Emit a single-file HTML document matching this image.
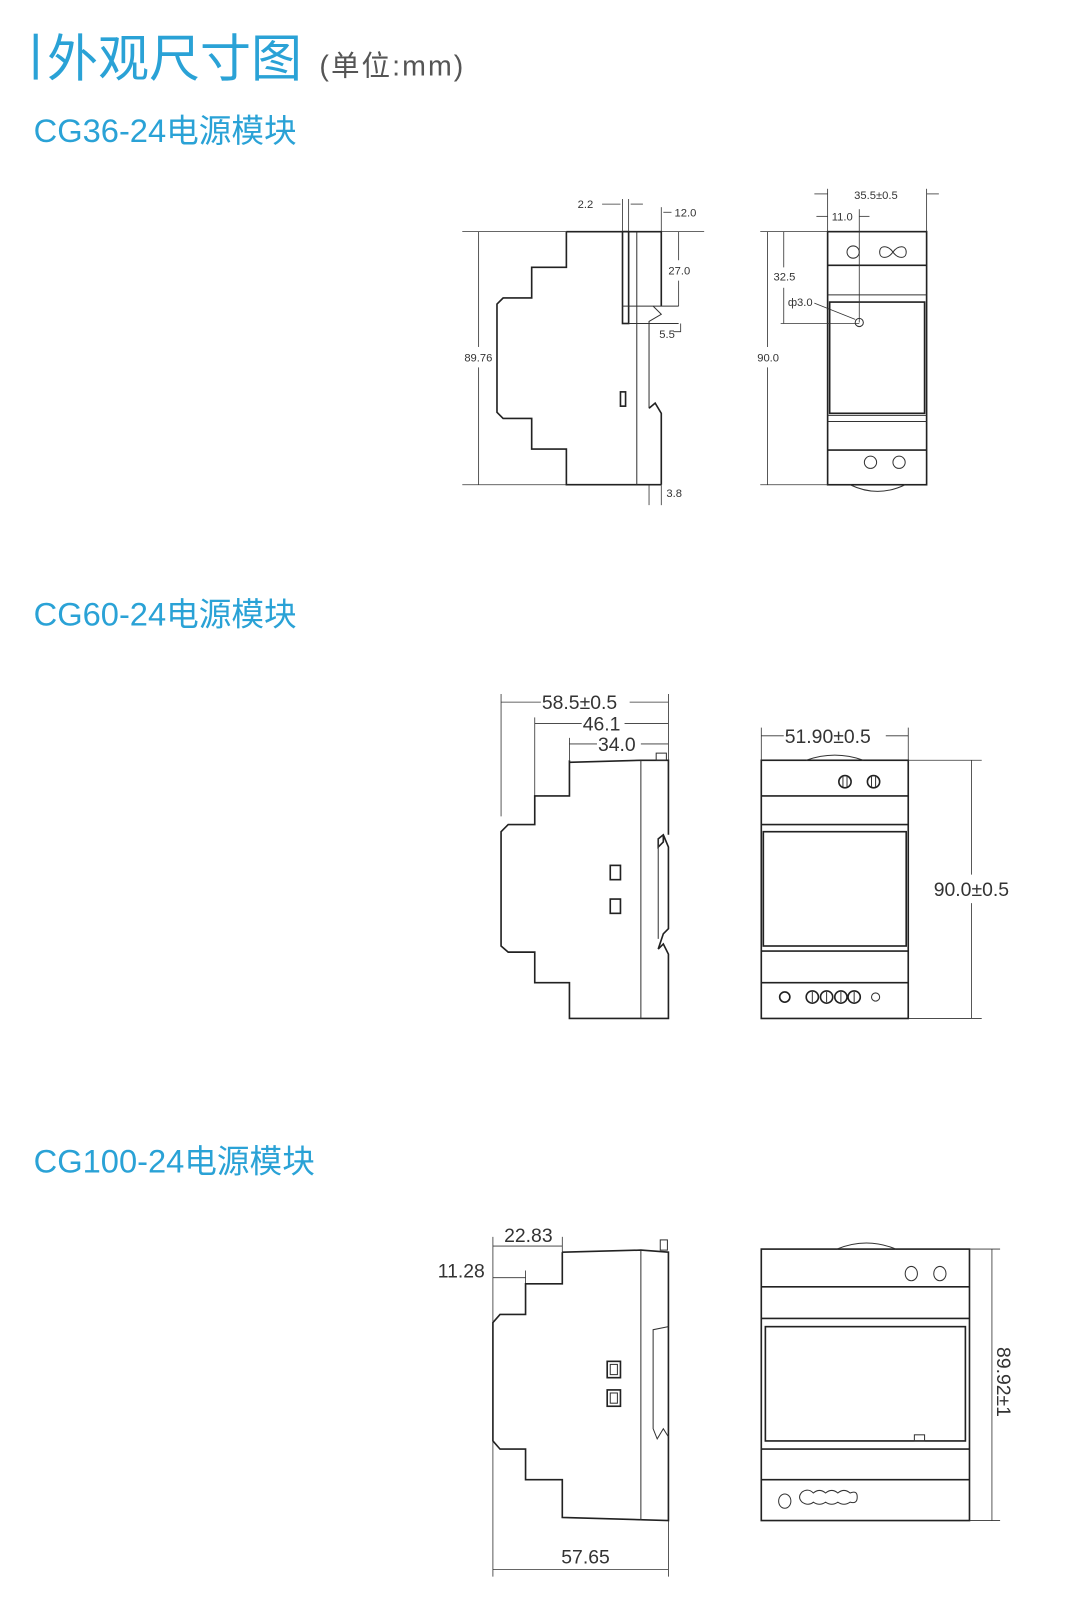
<!DOCTYPE html>
<html><head><meta charset="utf-8"><style>
html,body{margin:0;padding:0;background:#fff;width:1068px;height:1600px;overflow:hidden}
svg{display:block}
.b{fill:none;stroke:#222;stroke-width:1.6}
.t{fill:none;stroke:#333;stroke-width:1}
.d{fill:none;stroke:#333;stroke-width:0.8}
text{font-family:"Liberation Sans","Noto Sans CJK SC",sans-serif;fill:#333}
.s{font-size:11px}
.m{font-size:19px}
.h{fill:#2aa2d6}
</style></head><body>
<svg width="1068" height="1600" viewBox="0 0 1068 1600" xmlns="http://www.w3.org/2000/svg">
<g transform="scale(1.0205)">
<rect x="33" y="33" width="4" height="45" fill="#2aa2d6"/>
<text x="46" y="75" class="h" style="font-size:50px;font-family:'Noto Sans CJK SC',sans-serif">外观尺寸图</text>
<text x="313" y="74" style="font-size:28px;fill:#555;letter-spacing:2px;font-family:'Liberation Sans','Noto Sans CJK SC',sans-serif">(单位:mm)</text>
<text x="33" y="139" class="h" style="font-size:32px">CG36-24电源模块</text>
<text x="33" y="613" class="h" style="font-size:32px">CG60-24电源模块</text>
<text x="33" y="1149" class="h" style="font-size:32px">CG100-24电源模块</text>

<!-- Diagram 1 left -->
<g>
<line class="d" x1="453" y1="227" x2="690" y2="227"/><line class="d" x1="453" y1="475" x2="640" y2="475"/>
<line class="d" x1="469" y1="227" x2="469" y2="340"/><line class="d" x1="469" y1="360" x2="469" y2="475"/>
<text x="455" y="354" class="s">89.76</text>
<path class="b" d="M555 227 L555 262 L521 262 L521 292 L493 292 L487 298 L487 404 L493 410 L521 410 L521 440 L555 440 L555 475 L648 475"/>
<path class="b" d="M555 227 L648 227 L648 300"/>
<line class="t" x1="624" y1="227" x2="624" y2="475"/>
<rect class="b" x="610" y="227" width="6" height="90"/>
<line class="t" x1="610" y1="300" x2="665" y2="300"/>
<line class="t" x1="616" y1="317" x2="665" y2="317"/>
<path class="t" d="M640 300 L648 308 L636 315 L636 400"/>
<path class="b" d="M636 400 L642 395 L648 405 L648 475"/>
<rect class="b" x="608" y="384" width="5" height="14"/>
<line class="d" x1="610" y1="195" x2="610" y2="227"/><line class="d" x1="616" y1="195" x2="616" y2="227"/>
<line class="d" x1="590" y1="200" x2="608" y2="200"/><line class="d" x1="618" y1="200" x2="630" y2="200"/>
<text x="566" y="204" class="s">2.2</text>
<line class="d" x1="648" y1="203" x2="648" y2="227"/><line class="d" x1="650" y1="208" x2="658" y2="208"/>
<text x="661" y="212" class="s">12.0</text>
<line class="d" x1="665" y1="227" x2="665" y2="255"/><line class="d" x1="665" y1="275" x2="665" y2="300"/>
<text x="655" y="269" class="s">27.0</text>
<path class="d" d="M667 317 L667 325 L660 325"/><text x="646" y="331" class="s">5.5</text>
<line class="d" x1="636" y1="475" x2="636" y2="495"/><line class="d" x1="648" y1="475" x2="648" y2="495"/>
<text x="653" y="487" class="s">3.8</text>
</g>
<!-- Diagram 1 right -->
<g>
<rect class="b" x="811" y="227" width="97" height="248"/>
<line class="b" x1="811" y1="260" x2="908" y2="260"/>
<line class="t" x1="811" y1="289" x2="908" y2="289"/>
<rect class="b" x="813" y="296" width="93" height="109"/>
<line class="t" x1="811" y1="407" x2="908" y2="407"/>
<line class="t" x1="811" y1="413" x2="908" y2="413"/>
<line class="b" x1="811" y1="441" x2="908" y2="441"/>
<circle class="t" cx="836" cy="247" r="6"/>
<path class="t" d="M875 247 C870 240 862 240 862 247 C862 254 870 254 875 247 C880 240 888 240 888 247 C888 254 880 254 875 247Z"/>
<circle class="t" cx="853" cy="453" r="6"/><circle class="t" cx="881" cy="453" r="6"/>
<path class="t" d="M833 475 Q860 488 887 475"/>
<line class="d" x1="745" y1="227" x2="811" y2="227"/><line class="d" x1="745" y1="475" x2="811" y2="475"/>
<line class="d" x1="752" y1="227" x2="752" y2="340"/><line class="d" x1="752" y1="360" x2="752" y2="475"/>
<text x="742" y="354" class="s">90.0</text>
<line class="d" x1="768" y1="227" x2="768" y2="262"/><line class="d" x1="768" y1="282" x2="768" y2="317"/>
<text x="758" y="275" class="s">32.5</text>
<line class="d" x1="765" y1="317" x2="842" y2="317"/>
<text x="772" y="300" class="s">ф3.0</text>
<line class="d" x1="798" y1="297" x2="838" y2="313"/>
<circle class="t" cx="842" cy="316" r="4"/>
<line class="d" x1="842" y1="205" x2="842" y2="316"/>
<line class="d" x1="811" y1="185" x2="811" y2="227"/><line class="d" x1="908" y1="185" x2="908" y2="227"/>
<line class="d" x1="798" y1="190" x2="811" y2="190"/><line class="d" x1="908" y1="190" x2="920" y2="190"/>
<text x="837" y="195" class="s">35.5±0.5</text>
<line class="d" x1="800" y1="212" x2="811" y2="212"/><line class="d" x1="842" y1="212" x2="852" y2="212"/>
<text x="815" y="216" class="s">11.0</text>
</g>

<!-- Diagram 2 left -->
<g>
<line class="d" x1="491" y1="680" x2="491" y2="800"/><line class="d" x1="524" y1="703" x2="524" y2="780"/><line class="d" x1="558" y1="723" x2="558" y2="745"/>
<line class="d" x1="655" y1="680" x2="655" y2="745"/>
<line class="d" x1="491" y1="688" x2="530" y2="688"/><line class="d" x1="617" y1="688" x2="655" y2="688"/>
<text x="531" y="695" class="m">58.5±0.5</text>
<line class="d" x1="524" y1="709" x2="570" y2="709"/><line class="d" x1="612" y1="709" x2="655" y2="709"/>
<text x="571" y="716" class="m">46.1</text>
<line class="d" x1="558" y1="729" x2="585" y2="729"/><line class="d" x1="628" y1="729" x2="655" y2="729"/>
<text x="586" y="736" class="m">34.0</text>
<path class="b" d="M558 745 L558 780 L524 780 L524 808 L498 808 L491 815 L491 927 L498 933 L524 933 L524 963 L558 963 L558 998 L655 998 L655 935 L650 925 L645 930 L650 915 L655 910 L655 830 L650 818 L645 822 L645 830 L650 825 L650 818"/>
<path class="b" d="M558 747 L628 745 L655 745 L655 818"/>
<line class="t" x1="628" y1="745" x2="628" y2="998"/>
<line class="t" x1="645" y1="822" x2="645" y2="920"/>
<rect class="t" x="643" y="738" width="10" height="7"/>
<rect class="b" x="598" y="848" width="10" height="14"/>
<rect class="b" x="598" y="881" width="10" height="14"/>
</g>
<!-- Diagram 2 right -->
<g>
<rect class="b" x="746" y="745" width="144" height="253"/>
<line class="b" x1="746" y1="780" x2="890" y2="780"/>
<line class="b" x1="746" y1="808" x2="890" y2="808"/>
<rect class="b" x="748" y="815" width="140" height="112"/>
<line class="b" x1="746" y1="932" x2="890" y2="932"/>
<line class="b" x1="746" y1="963" x2="890" y2="963"/>
<path class="t" d="M790 745 Q818 735 846 745"/>
<g class="b"><circle cx="828" cy="766" r="6"/><circle cx="856" cy="766" r="6"/>
<circle cx="769" cy="977" r="5"/><circle cx="796" cy="977" r="6"/><circle cx="810" cy="977" r="6"/><circle cx="824" cy="977" r="6"/><circle cx="837" cy="977" r="6"/></g>
<g class="t"><line x1="826" y1="761" x2="826" y2="771"/><line x1="830" y1="761" x2="830" y2="771"/><line x1="854" y1="761" x2="854" y2="771"/><line x1="858" y1="761" x2="858" y2="771"/>
<line x1="796" y1="972" x2="796" y2="982"/><line x1="810" y1="972" x2="810" y2="982"/><line x1="824" y1="972" x2="824" y2="982"/><line x1="837" y1="972" x2="837" y2="982"/></g>
<circle class="t" cx="858" cy="977" r="4"/>
<line class="d" x1="746" y1="713" x2="746" y2="745"/><line class="d" x1="890" y1="713" x2="890" y2="745"/>
<line class="d" x1="746" y1="721" x2="768" y2="721"/><line class="d" x1="868" y1="721" x2="890" y2="721"/>
<text x="769" y="728" class="m">51.90±0.5</text>
<line class="d" x1="890" y1="745" x2="962" y2="745"/><line class="d" x1="890" y1="998" x2="962" y2="998"/>
<line class="d" x1="952" y1="745" x2="952" y2="857"/><line class="d" x1="952" y1="885" x2="952" y2="998"/>
<text x="915" y="878" class="m">90.0±0.5</text>
</g>

<!-- Diagram 3 left -->
<g>
<line class="d" x1="483" y1="1212" x2="483" y2="1545"/><line class="d" x1="655" y1="1490" x2="655" y2="1545"/>
<line class="d" x1="551" y1="1212" x2="551" y2="1227"/>
<line class="d" x1="483" y1="1221" x2="551" y2="1221"/>
<text x="494" y="1217" class="m">22.83</text>
<line class="d" x1="515" y1="1245" x2="515" y2="1258"/>
<line class="d" x1="483" y1="1252" x2="515" y2="1252"/>
<text x="429" y="1252" class="m">11.28</text>
<line class="d" x1="483" y1="1538" x2="655" y2="1538"/>
<text x="550" y="1532" class="m">57.65</text>
<path class="b" d="M551 1227 L551 1258 L515 1258 L515 1288 L490 1288 L483 1296 L483 1412 L490 1420 L515 1420 L515 1450 L551 1450 L551 1487 L655 1490 L655 1227 L628 1225 L551 1227"/>
<line class="t" x1="628" y1="1225" x2="628" y2="1490"/>
<path class="t" d="M655 1300 L640 1303 L640 1400 L644 1410 L650 1400 L655 1408"/>
<rect class="t" x="647" y="1215" width="7" height="10"/>
<rect class="b" x="595" y="1334" width="13" height="16"/><rect class="t" x="598" y="1337" width="7" height="10"/>
<rect class="b" x="595" y="1362" width="13" height="16"/><rect class="t" x="598" y="1365" width="7" height="10"/>
</g>
<!-- Diagram 3 right -->
<g>
<rect class="b" x="746" y="1224" width="204" height="266"/>
<line class="b" x1="746" y1="1261" x2="950" y2="1261"/>
<line class="b" x1="746" y1="1292" x2="950" y2="1292"/>
<rect class="b" x="750" y="1300" width="196" height="112"/>
<line class="b" x1="746" y1="1420" x2="950" y2="1420"/>
<line class="b" x1="746" y1="1450" x2="950" y2="1450"/>
<rect class="t" x="896" y="1406" width="10" height="6"/>
<path class="t" d="M820 1224 Q849 1212 878 1224"/>
<ellipse class="t" cx="893" cy="1248" rx="6" ry="7"/><ellipse class="t" cx="921" cy="1248" rx="6" ry="7"/>
<ellipse class="t" cx="769" cy="1471" rx="6" ry="7"/>
<path class="t" d="M786 1462 Q792 1458 797 1463 Q803 1458 809 1463 Q815 1458 821 1463 Q827 1458 833 1463 Q840 1460 840 1467 Q840 1474 833 1472 Q827 1476 821 1472 Q815 1476 809 1472 Q803 1476 797 1472 Q792 1476 786 1472 Q781 1467 786 1462Z"/>
<line class="d" x1="950" y1="1224" x2="980" y2="1224"/><line class="d" x1="950" y1="1490" x2="980" y2="1490"/>
<line class="d" x1="972" y1="1224" x2="972" y2="1490"/>
<text x="0" y="0" class="m" transform="translate(977,1320) rotate(90)">89.92±1</text>
</g>
</g>
</svg>
</body></html>
